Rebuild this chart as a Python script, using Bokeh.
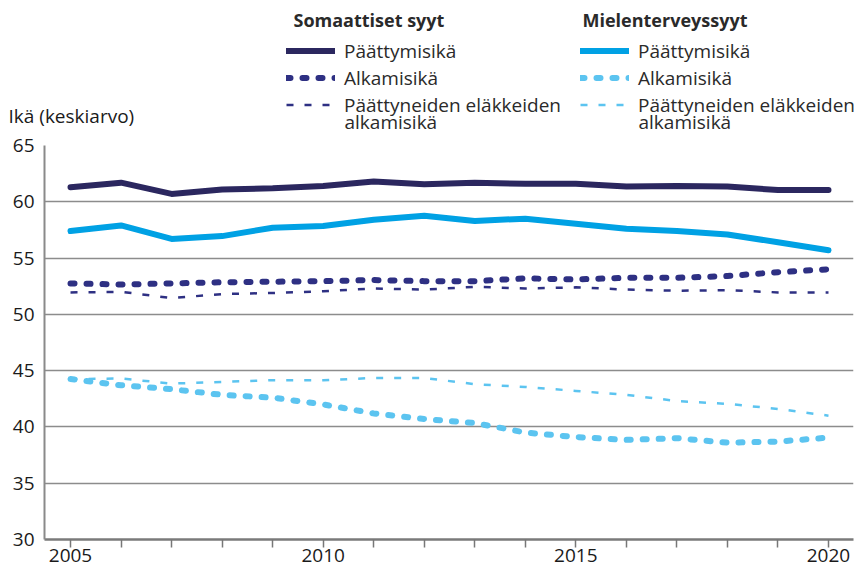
from bokeh.plotting import figure
from bokeh.layouts import column
from bokeh.models import Legend, LegendItem, Label, FixedTicker
from bokeh.embed import file_html
from bokeh.resources import INLINE

years = list(range(2005, 2021))
som_end = [61.3, 61.7, 60.7, 61.1, 61.2, 61.4, 61.8, 61.55, 61.7, 61.6, 61.6, 61.35, 61.4, 61.35, 61.05, 61.05]
som_onset = [52.75, 52.65, 52.75, 52.85, 52.9, 52.95, 53.05, 52.95, 52.95, 53.2, 53.1, 53.25, 53.25, 53.4, 53.75, 54.0]
som_ret = [51.95, 52.0, 51.45, 51.8, 51.9, 52.05, 52.3, 52.2, 52.45, 52.3, 52.4, 52.2, 52.1, 52.15, 51.95, 51.95]
mh_end = [57.4, 57.9, 56.7, 56.95, 57.7, 57.85, 58.4, 58.75, 58.3, 58.5, 58.05, 57.6, 57.4, 57.1, 56.4, 55.7]
mh_onset = [44.25, 43.7, 43.35, 42.85, 42.6, 42.0, 41.2, 40.7, 40.35, 39.5, 39.1, 38.85, 39.0, 38.6, 38.7, 39.05]
mh_ret = [44.25, 44.3, 43.85, 44.0, 44.15, 44.15, 44.35, 44.35, 43.8, 43.55, 43.2, 42.85, 42.3, 42.05, 41.6, 41.0]

y_ticks = [30, 35, 40, 45, 50, 55, 60, 65]
x_label_years = [2005, 2010, 2015, 2020]

title_som = "Somaattiset syyt"
title_mh = "Mielenterveyssyyt"
lab_end = "Päättymisikä"
lab_onset = "Alkamisikä"
lab_ret_1 = "Päättyneiden eläkkeiden"
lab_ret_2 = "alkamisikä"
y_title = "Ikä (keskiarvo)"

NAVY = "#2b275f"
NAVY2 = "#2e3083"
BLUE = "#00a1e4"
LBLUE = "#5cc4f0"
FONT = "Open Sans"
TXT = "#1a1a1a"
LTXT = "#2a2a2a"

styles = {
    "end": dict(line_width=6, line_cap="round", line_join="round"),
    "onset": dict(line_width=6, line_dash="4 12", line_cap="round"),
    "ret": dict(line_width=2.5, line_dash="7 11"),
}

series = [("som_end", som_end, NAVY, "end"), ("som_onset", som_onset, NAVY2, "onset"),
          ("som_ret", som_ret, NAVY2, "ret"), ("mh_end", mh_end, BLUE, "end"),
          ("mh_onset", mh_onset, LBLUE, "onset"), ("mh_ret", mh_ret, LBLUE, "ret")]

# ---------------- main chart ----------------
TOP_H = 133
p = figure(width=858, height=569 - TOP_H, output_backend="svg", toolbar_location=None,
           x_range=(2004.485, 2020.495), y_range=(30, 65),
           min_border_left=44, min_border_right=5, min_border_top=12, min_border_bottom=30)
p.frame_align = False
p.outline_line_color = None

p.xaxis.ticker = FixedTicker(ticks=years)
p.xaxis.major_label_overrides = {y: (str(y) if y in x_label_years else "") for y in years}
p.xaxis.major_tick_out = 8
p.xaxis.major_tick_in = 0
p.xaxis.minor_tick_line_color = None
p.xaxis.major_tick_line_color = "#777777"
p.xaxis.major_tick_line_width = 1.5
p.xaxis.axis_line_color = "#7a7a7a"
p.xaxis.axis_line_width = 2.5
p.xaxis.major_label_standoff = 1
p.xaxis.major_label_text_font = FONT
p.xaxis.major_label_text_font_size = "19px"
p.xaxis.major_label_text_color = TXT

p.yaxis.ticker = FixedTicker(ticks=y_ticks)
p.yaxis.major_tick_out = 0
p.yaxis.major_tick_in = 0
p.yaxis.minor_tick_line_color = None
p.yaxis.axis_line_color = "#8a8a8a"
p.yaxis.axis_line_width = 2
p.yaxis.major_label_standoff = 10
p.yaxis.major_label_text_font = FONT
p.yaxis.major_label_text_font_size = "19px"
p.yaxis.major_label_text_color = TXT

p.xgrid.grid_line_color = None
p.ygrid.ticker = FixedTicker(ticks=y_ticks)
p.ygrid.grid_line_color = "#8c8c8c"
p.ygrid.grid_line_width = 1.6

for key in ["mh_ret", "mh_onset", "som_ret", "som_onset", "mh_end", "som_end"]:
    _, vals, color, st = next(s for s in series if s[0] == key)
    p.line(years, vals, line_color=color, **styles[st])

# ---------------- legend / header strip ----------------
# same series drawn outside this strip's ranges, so only their legend samples show
h = figure(width=858, height=TOP_H, output_backend="svg", toolbar_location=None,
           x_range=(0, 1), y_range=(0, 1), min_border=0,
           x_axis_type=None, y_axis_type=None)
h.frame_align = False
h.grid.grid_line_color = None
h.outline_line_color = None

lr = {}
for key, vals, color, st in series:
    lr[key] = h.line(years, vals, line_color=color, **styles[st])


def make_legend(items, x):
    return Legend(items=items, location=(x, 15),
                  border_line_color=None, background_fill_alpha=0, padding=0, margin=0,
                  spacing=0, glyph_width=49, glyph_height=27, label_height=27, label_standoff=9,
                  label_text_font=FONT, label_text_font_size="19px", label_text_color=LTXT)


h.add_layout(make_legend([LegendItem(label=lab_end, renderers=[lr["som_end"]]),
                          LegendItem(label=lab_onset, renderers=[lr["som_onset"]]),
                          LegendItem(label=lab_ret_1, renderers=[lr["som_ret"]])], 286))
h.add_layout(make_legend([LegendItem(label=lab_end, renderers=[lr["mh_end"]]),
                          LegendItem(label=lab_onset, renderers=[lr["mh_onset"]]),
                          LegendItem(label=lab_ret_1, renderers=[lr["mh_ret"]])], 580))

for txt, x in [(title_som, 293), (title_mh, 582)]:
    h.add_layout(Label(x=x, y=TOP_H - 19, x_units="screen", y_units="screen", text=txt,
                       text_baseline="middle", text_font=FONT, text_font_size="18px",
                       text_font_style="bold", text_color=LTXT))
for x in [344, 638]:
    h.add_layout(Label(x=x, y=TOP_H - 121, x_units="screen", y_units="screen", text=lab_ret_2,
                       text_baseline="middle", text_font=FONT, text_font_size="19px",
                       text_color=LTXT))

h.add_layout(Label(x=8, y=TOP_H - 115, x_units="screen", y_units="screen", text=y_title,
                   text_baseline="middle", text_font=FONT, text_font_size="19px", text_color=TXT))

layout = column(h, p, spacing=0)
open("out.html", "w").write(file_html(layout, INLINE))
